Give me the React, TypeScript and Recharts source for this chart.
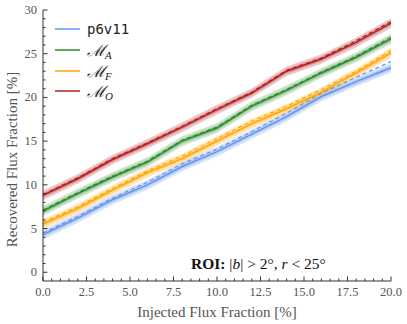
import React from 'react';
import { ComposedChart, Area, Line, XAxis, YAxis } from 'recharts';

// injected flux fraction [%]
const injected = [0, 2, 4, 6, 8, 10, 12, 14, 16, 18, 20];

// recovered flux fraction [%], solid = median, dashed = second estimate
const p6v11 = [4.3, 6.2, 8.3, 10.0, 12.1, 13.8, 15.8, 17.8, 20.1, 21.8, 23.4];
const p6v11Dash = [4.5, 6.4, 8.5, 10.3, 12.4, 14.1, 16.1, 18.2, 20.5, 22.3, 24.1];
const mA = [7.0, 9.0, 10.9, 12.6, 15.0, 16.5, 19.0, 20.8, 22.8, 24.6, 26.7];
const mADash = [7.1, 9.1, 11.0, 12.7, 15.1, 16.6, 19.1, 20.9, 22.9, 24.7, 26.9];
const mF = [5.5, 7.3, 9.4, 11.4, 13.0, 15.0, 17.0, 18.7, 20.6, 22.8, 25.1];
const mFDash = [5.7, 7.5, 9.6, 11.6, 13.3, 15.3, 17.3, 19.0, 20.9, 23.0, 25.4];
const mO = [8.8, 10.7, 12.9, 14.7, 16.6, 18.6, 20.5, 23.0, 24.4, 26.3, 28.5];
const mODash = [8.9, 10.8, 13.0, 14.8, 16.7, 18.7, 20.6, 23.1, 24.5, 26.5, 28.7];

// half widths of the outer / inner shaded bands
const errOuter = [0.55, 0.55, 0.55, 0.55, 0.55, 0.55, 0.55, 0.55, 0.55, 0.55, 0.55];
const errInner = [0.28, 0.28, 0.28, 0.28, 0.28, 0.28, 0.28, 0.28, 0.28, 0.28, 0.28];

const xMajor = [0, 2.5, 5, 7.5, 10, 12.5, 15, 17.5, 20];
const yMajor = [0, 5, 10, 15, 20, 25, 30];
const xTicks = Array.from({ length: 41 }, (_, i) => i * 0.5);
const yTicks = Array.from({ length: 31 }, (_, i) => i);

const series = [
  { key: 'p6v11', solid: p6v11, dash: p6v11Dash, color: '#6495ed', label: 'p6v11', sub: '' },
  { key: 'mA', solid: mA, dash: mADash, color: '#2e8b2e', label: 'ℳ', sub: 'A' },
  { key: 'mF', solid: mF, dash: mFDash, color: '#ffa500', label: 'ℳ', sub: 'F' },
  { key: 'mO', solid: mO, dash: mODash, color: '#b22222', label: 'ℳ', sub: 'O' },
];

const data = injected.map((x, i) => {
  const row: any = { x };
  series.forEach((s) => {
    row[s.key] = s.solid[i];
    row[s.key + '_d'] = s.dash[i];
    row[s.key + '_o'] = [s.solid[i] - errOuter[i], s.solid[i] + errOuter[i]];
    row[s.key + '_i'] = [s.solid[i] - errInner[i], s.solid[i] + errInner[i]];
  });
  return row;
});

const FRAME = '#333';
const TEXT = '#555';
const SERIF = "'Liberation Serif', 'DejaVu Serif', serif";
const serifStyle = { fontFamily: SERIF };

const makeTick = (side: 'left' | 'right' | 'top' | 'bottom') => (props: any) => {
  const { x, y, payload } = props;
  const v = payload.value;
  const major = side === 'left' || side === 'right' ? yMajor.includes(v) : xMajor.includes(v);
  const len = major ? 4.5 : 2.5;
  let line;
  if (side === 'left') line = <line x1={x} x2={x + len} y1={y} y2={y} stroke={FRAME} />;
  else if (side === 'right') line = <line x1={x} x2={x - len} y1={y} y2={y} stroke={FRAME} />;
  else if (side === 'top') line = <line x1={x} x2={x} y1={y} y2={y + len} stroke={FRAME} />;
  else line = <line x1={x} x2={x} y1={y} y2={y - len} stroke={FRAME} />;
  let label = null;
  if (major && side === 'left')
    label = (
      <text x={x - 6} y={y + 4} textAnchor="end" fill={TEXT} fontSize={12.5} style={serifStyle}>
        {v}
      </text>
    );
  if (major && side === 'bottom')
    label = (
      <text x={x} y={y + 15} textAnchor="middle" fill={TEXT} fontSize={12.5} style={serifStyle}>
        {v.toFixed(1)}
      </text>
    );
  return (
    <g>
      {line}
      {label}
    </g>
  );
};

const YLabel = (props: any) => {
  const { viewBox } = props;
  const cx = 12;
  const cy = viewBox.y + viewBox.height / 2 + 14;
  return (
    <text x={cx} y={cy} transform={`rotate(-90 ${cx} ${cy})`} textAnchor="middle" dominantBaseline="central" fill={TEXT} fontSize={15} style={serifStyle}>
      Recovered Flux Fraction [%]
    </text>
  );
};

const XLabel = (props: any) => {
  const { viewBox } = props;
  const cx = viewBox.x + viewBox.width / 2;
  return (
    <text x={cx} y={317} textAnchor="middle" fill={TEXT} fontSize={15} style={serifStyle}>
      Injected Flux Fraction [%]
    </text>
  );
};

const Legend = () => (
  <div style={{ position: 'absolute', left: 55, top: 19, fontFamily: SERIF, color: '#222' }}>
    {series.map((s) => (
      <div key={s.key} style={{ display: 'flex', alignItems: 'center', height: 20.7 }}>
        <div style={{ width: 25, height: 2, background: s.color, opacity: 0.75, marginRight: 7 }} />
        {s.sub ? (
          <span style={{ fontSize: 16, fontStyle: 'italic' }}>
            {s.label}
            <span style={{ fontSize: 11, position: 'relative', top: 3 }}>{s.sub}</span>
          </span>
        ) : (
          <span style={{ fontSize: 14, fontFamily: "'DejaVu Sans Mono', monospace" }}>{s.label}</span>
        )}
      </div>
    ))}
  </div>
);

export default function App() {
  return (
    <div style={{ position: 'absolute', left: 0, top: 0, width: 407, height: 324 }}>
      <ComposedChart width={407} height={324} data={data} margin={{ top: 10, right: 16, bottom: 0, left: 0 }}>
        <XAxis
          xAxisId="b"
          dataKey="x"
          type="number"
          domain={[0, 20]}
          ticks={xTicks}
          interval={0}
          height={43}
          tickSize={0}
          tickMargin={0}
          tickLine={false}
          axisLine={{ stroke: FRAME }}
          tick={makeTick('bottom')}
          label={<XLabel />}
        />
        <XAxis
          xAxisId="t"
          orientation="top"
          dataKey="x"
          type="number"
          domain={[0, 20]}
          ticks={xTicks}
          interval={0}
          height={0}
          tickSize={0}
          tickMargin={0}
          tickLine={false}
          axisLine={{ stroke: FRAME }}
          tick={makeTick('top')}
        />
        <YAxis
          yAxisId="l"
          type="number"
          domain={[-1, 30]}
          ticks={yTicks}
          interval={0}
          width={43}
          tickSize={0}
          tickMargin={0}
          tickLine={false}
          axisLine={{ stroke: FRAME }}
          tick={makeTick('left')}
          label={<YLabel />}
        />
        <YAxis
          yAxisId="r"
          orientation="right"
          type="number"
          domain={[-1, 30]}
          ticks={yTicks}
          interval={0}
          width={0}
          tickSize={0}
          tickMargin={0}
          tickLine={false}
          axisLine={{ stroke: FRAME }}
          tick={makeTick('right')}
        />
        {series.map((s) => (
          <React.Fragment key={s.key}>
            <Area xAxisId="b" yAxisId="l" type="linear" dataKey={s.key + '_o'} stroke="none" fill={s.color} fillOpacity={0.25} isAnimationActive={false} />
            <Area xAxisId="b" yAxisId="l" type="linear" dataKey={s.key + '_i'} stroke="none" fill={s.color} fillOpacity={0.3} isAnimationActive={false} />
            <Line xAxisId="b" yAxisId="l" type="linear" dataKey={s.key} stroke={s.color} strokeWidth={1.5} dot={false} isAnimationActive={false} />
            <Line xAxisId="b" yAxisId="l" type="linear" dataKey={s.key + '_d'} stroke={s.color} strokeWidth={1.2} strokeDasharray="4 3" dot={false} isAnimationActive={false} />
          </React.Fragment>
        ))}
      </ComposedChart>
      <Legend />
      <div style={{ position: 'absolute', left: 191, top: 255, fontFamily: SERIF, fontSize: 15.5, color: '#111', whiteSpace: 'nowrap' }}>
        <b>ROI:</b> |<i>b</i>| &gt; 2°, <i>r</i> &lt; 25°
      </div>
    </div>
  );
}
